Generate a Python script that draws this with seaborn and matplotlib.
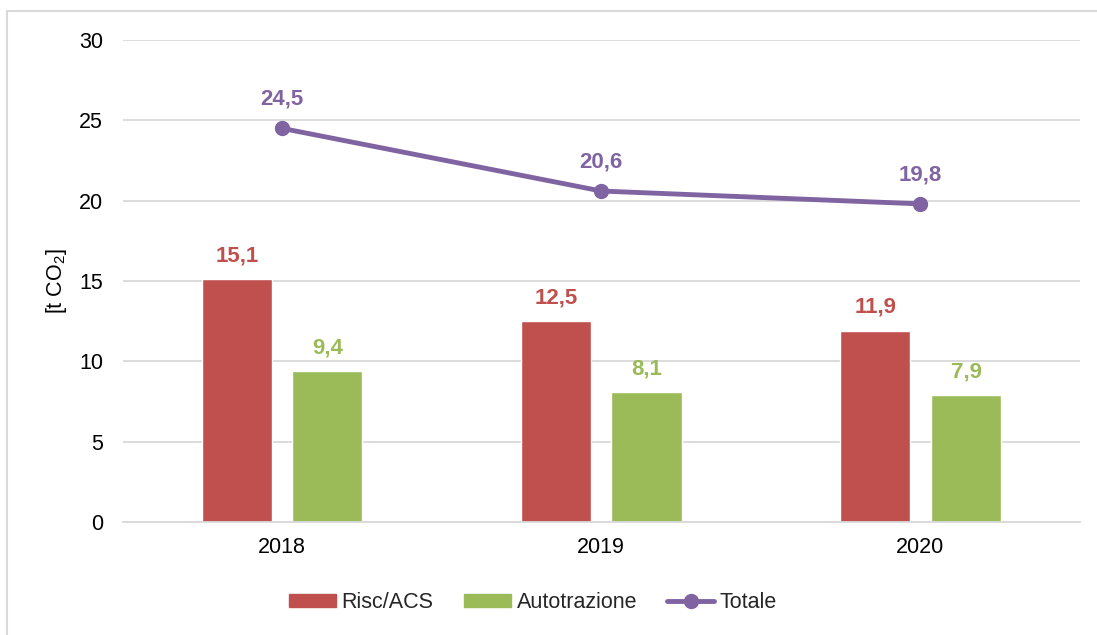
import matplotlib
matplotlib.use("Agg")
import matplotlib.pyplot as plt
import seaborn as sns
import pandas as pd
from matplotlib.patches import Patch, Rectangle
from matplotlib.lines import Line2D

years = ["2018", "2019", "2020"]
risc = [15.1, 12.5, 11.9]
auto = [9.4, 8.1, 7.9]
totale = [24.5, 20.6, 19.8]
series = ["Risc/ACS", "Autotrazione"]
colors = {"Risc/ACS": "#C0504D", "Autotrazione": "#9BBB59"}
line_color = "#8064A2"

sns.set_theme(style="white")
plt.rcParams["font.family"] = ["Liberation Sans", "DejaVu Sans"]
plt.rcParams["mathtext.fontset"] = "custom"
plt.rcParams["mathtext.rm"] = "Liberation Sans"
plt.rcParams["mathtext.it"] = "Liberation Sans:italic"

df = pd.DataFrame({
    "year": years * 2,
    "value": risc + auto,
    "serie": [series[0]] * 3 + [series[1]] * 3,
})

W, H = 1097, 635
FS = 15.5
fig = plt.figure(figsize=(W / 100, H / 100), dpi=100)
ax = fig.add_axes([122.5 / W, 1 - 522 / H, 957.5 / W, 482 / H])

sns.barplot(data=df, x="year", y="value", hue="serie", order=years,
            hue_order=series, palette=colors, width=0.567, gap=0.223,
            saturation=1, ax=ax, legend=False, errorbar=None)

xs = list(range(len(years)))
ax.plot(xs, totale, color=line_color, lw=3.5, marker="o", ms=10, zorder=5,
        solid_capstyle="round")


def fmt(v):
    return f"{v:.1f}".replace(".", ",")


for i, v in enumerate(risc):
    ax.annotate(fmt(v), (i - 0.141, v), xytext=(0, 13), textcoords="offset points",
                ha="center", va="baseline", color=colors["Risc/ACS"],
                fontsize=16, fontweight="bold")
for i, v in enumerate(auto):
    ax.annotate(fmt(v), (i + 0.143, v), xytext=(0, 12.5), textcoords="offset points",
                ha="center", va="baseline", color=colors["Autotrazione"],
                fontsize=16, fontweight="bold")
for i, v in enumerate(totale):
    ax.annotate(fmt(v), (i, v), xytext=(0, 17), textcoords="offset points",
                ha="center", va="baseline", color=line_color,
                fontsize=16, fontweight="bold")

ax.set_ylim(0, 30)
ax.set_xlim(-0.5, 2.5)
ax.set_yticks([0, 5, 10, 15, 20, 25, 30])
ax.grid(axis="y", color="#D9D9D9", lw=1.3)
ax.set_axisbelow(True)
for s in ["top", "right", "left"]:
    ax.spines[s].set_visible(False)
ax.spines["bottom"].set_color("#D9D9D9")
ax.spines["bottom"].set_linewidth(1.3)
ax.tick_params(axis="both", length=0, labelsize=FS, colors="black")
ax.tick_params(axis="y", pad=14)
ax.tick_params(axis="x", pad=11)
ax.set_xlabel("")
ax.set_ylabel("[t CO$_2$]", fontsize=FS, color="black")
ax.yaxis.set_label_coords((69 - 122.5) / 957.5, 0.5)

handles = [
    Patch(color=colors["Risc/ACS"], label="Risc/ACS"),
    Patch(color=colors["Autotrazione"], label="Autotrazione"),
    Line2D([0], [0], color=line_color, lw=3.5, marker="o", ms=10, label="Totale"),
]
fig.legend(handles=handles, loc="center", bbox_to_anchor=(533 / W, 1 - 603 / H),
           ncol=3, frameon=False, fontsize=FS, handlelength=2.2,
           handleheight=0.55, handletextpad=0.25, columnspacing=1.4)

fig.patches.append(Rectangle((6.5 / W, -0.1), 1.2, 1 - 10.5 / H + 0.1,
                             transform=fig.transFigure, fill=False,
                             edgecolor="#D9D9D9", lw=1.5, zorder=10))

fig.savefig("out.png", dpi=100)
